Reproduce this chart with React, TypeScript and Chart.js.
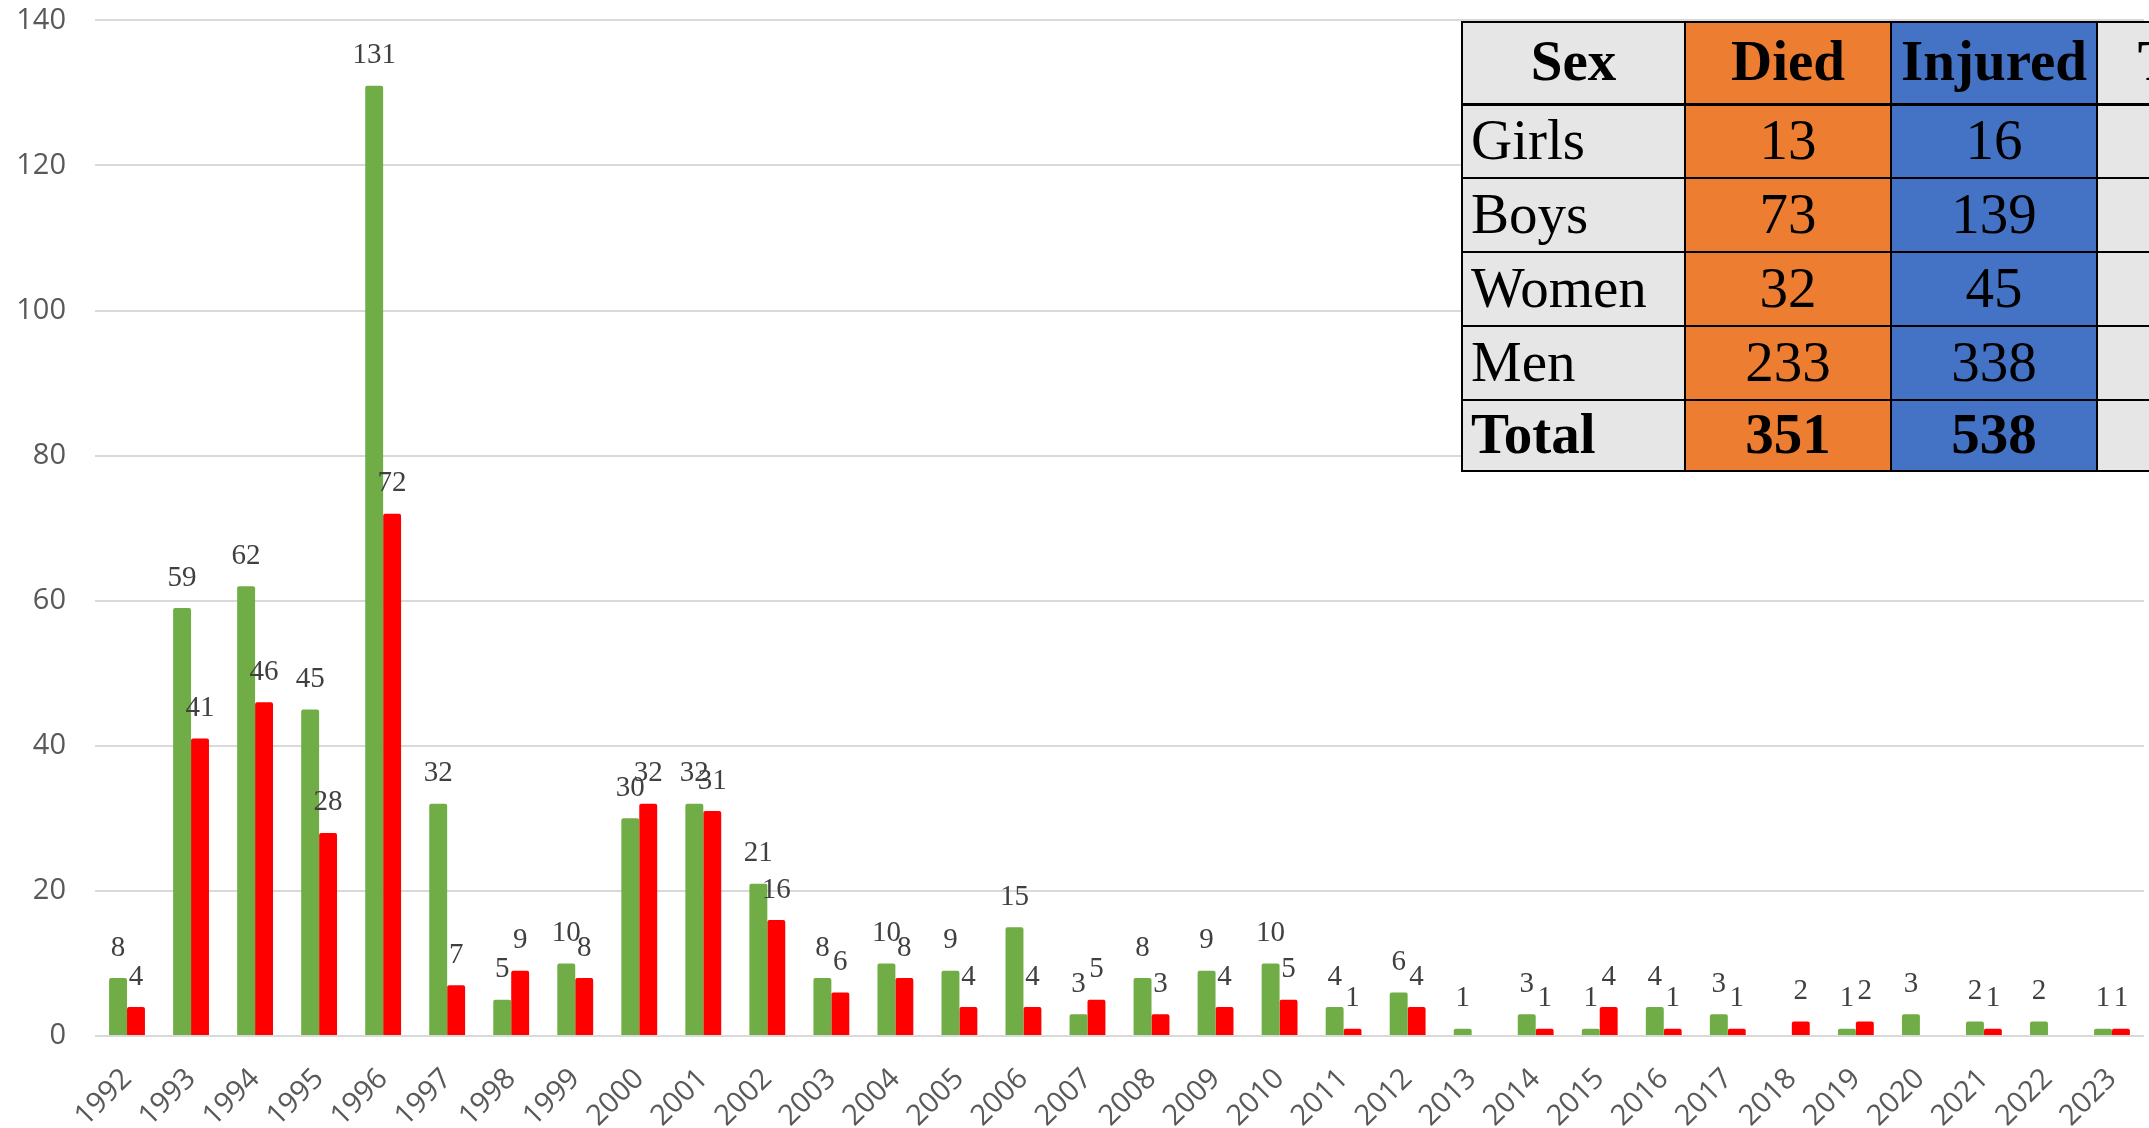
import React, { useEffect, useRef } from "react";
import { Chart, registerables } from "chart.js";

Chart.register(...registerables);

const years = [
  "1992", "1993", "1994", "1995", "1996", "1997", "1998", "1999", "2000", "2001", "2002",
  "2003", "2004", "2005", "2006", "2007", "2008", "2009", "2010", "2011", "2012", "2013",
  "2014", "2015", "2016", "2017", "2018", "2019", "2020", "2021", "2022", "2023",
];
const injured = [8, 59, 62, 45, 131, 32, 5, 10, 30, 32, 21, 8, 10, 9, 15, 3, 8, 9, 10, 4, 6, 1, 3, 1, 4, 3, 0, 1, 3, 2, 2, 1];
const died = [4, 41, 46, 28, 72, 7, 9, 8, 32, 31, 16, 6, 8, 4, 4, 5, 3, 4, 5, 1, 4, 0, 1, 4, 1, 1, 2, 2, 0, 1, 0, 1];

const yMin = 0;
const yMax = 140;
const yStep = 20;

const tableHeaders = ["Sex", "Died", "Injured", "Total"];
const sexLabels = ["Girls", "Boys", "Women", "Men", "Total"];
const diedBySex = [13, 73, 32, 233, 351];
const injuredBySex = [16, 139, 45, 338, 538];

const valueLabels = {
  id: "valueLabels",
  afterDatasetsDraw(chart: any) {
    const ctx = chart.ctx;
    ctx.save();
    ctx.font = '29px "Liberation Serif", "Times New Roman", serif';
    ctx.fillStyle = "#404040";
    ctx.textAlign = "center";
    ctx.textBaseline = "middle";
    chart.data.datasets.forEach((ds: any, i: number) => {
      const meta = chart.getDatasetMeta(i);
      meta.data.forEach((bar: any, j: number) => {
        const v = ds.data[j];
        if (!v) return;
        ctx.fillText(String(v), bar.x, bar.y - 30);
      });
    });
    ctx.restore();
  },
};

const GRAY = "#E7E6E6";
const ORANGE = "#ED7D31";
const BLUE = "#4472C4";

export default function App() {
  const canvasRef = useRef<HTMLCanvasElement | null>(null);

  useEffect(() => {
    document.body.style.margin = "0";
    const canvas = canvasRef.current;
    if (!canvas) return;
    const chart = new Chart(canvas, {
      type: "bar",
      data: {
        labels: years,
        datasets: [
          {
            label: "Injured",
            data: injured,
            backgroundColor: "#70AD47",
            categoryPercentage: 0.56,
            barPercentage: 1,
            borderRadius: 2,
          },
          {
            label: "Died",
            data: died,
            backgroundColor: "#FF0000",
            categoryPercentage: 0.56,
            barPercentage: 1,
            borderRadius: 2,
          },
        ],
      },
      options: {
        responsive: false,
        animation: false,
        devicePixelRatio: 1,
        layout: { padding: { top: 19, right: 5, left: 0, bottom: 0 } },
        plugins: {
          legend: { display: false },
          tooltip: { enabled: false },
        },
        scales: {
          x: {
            grid: { display: false, drawTicks: false },
            border: { display: false },
            ticks: {
              minRotation: 45,
              maxRotation: 45,
              autoSkip: false,
              color: "#595959",
              font: { family: '"Open Sans", sans-serif', size: 29 },
              padding: 26,
            },
            afterFit: (s: any) => {
              s.height = 92;
              s.paddingRight = 0;
              s.paddingLeft = 0;
            },
          },
          y: {
            min: yMin,
            max: yMax,
            ticks: {
              stepSize: yStep,
              color: "#595959",
              font: { family: '"Open Sans", sans-serif', size: 29 },
              padding: 3,
            },
            grid: { color: "#D9D9D9", lineWidth: 2, drawTicks: true, tickLength: 26, tickColor: "rgba(0,0,0,0)" },
            border: { display: false },
            afterFit: (s: any) => {
              s.width = 95;
            },
          },
        },
      },
      plugins: [valueLabels],
    });
    return () => chart.destroy();
  }, []);

  const cellBase: React.CSSProperties = {
    border: "2px solid #000",
    padding: 0,
    paddingBottom: 4,
    fontFamily: '"Liberation Serif", "Times New Roman", serif',
    fontSize: 57,
    color: "#000",
    verticalAlign: "middle",
    whiteSpace: "nowrap",
    overflow: "hidden",
  };

  const colWidths = [223, 206, 206, 206];
  const rowHeights = [74, 74, 74, 74, 70];

  return (
    <div style={{ position: "relative", width: 2149, height: 1128, overflow: "hidden", background: "#fff" }}>
      <canvas ref={canvasRef} width={2149} height={1128} style={{ display: "block", width: 2149, height: 1128 }} />
      <table
        style={{
          position: "absolute",
          left: 1461,
          top: 21,
          borderCollapse: "collapse",
          tableLayout: "fixed",
          width: colWidths.reduce((a, b) => a + b, 0),
        }}
      >
        <colgroup>
          {colWidths.map((w, i) => (
            <col key={i} style={{ width: w }} />
          ))}
        </colgroup>
        <thead>
          <tr style={{ height: 82 }}>
            {tableHeaders.map((h, i) => (
              <th
                key={h}
                style={{
                  ...cellBase,
                  fontWeight: "bold",
                  textAlign: "center",
                  background: i === 1 ? ORANGE : i === 2 ? BLUE : GRAY,
                  borderBottomWidth: 3,
                }}
              >
                {h}
              </th>
            ))}
          </tr>
        </thead>
        <tbody>
          {sexLabels.map((s, r) => {
            const bold = r === sexLabels.length - 1;
            return (
              <tr key={s} style={{ height: rowHeights[r] }}>
                <td style={{ ...cellBase, background: GRAY, textAlign: "left", paddingLeft: 8, fontWeight: bold ? "bold" : "normal" }}>{s}</td>
                <td style={{ ...cellBase, background: ORANGE, textAlign: "center", fontWeight: bold ? "bold" : "normal" }}>{diedBySex[r]}</td>
                <td style={{ ...cellBase, background: BLUE, textAlign: "center", fontWeight: bold ? "bold" : "normal" }}>{injuredBySex[r]}</td>
                <td style={{ ...cellBase, background: GRAY }}></td>
              </tr>
            );
          })}
        </tbody>
      </table>
    </div>
  );
}
